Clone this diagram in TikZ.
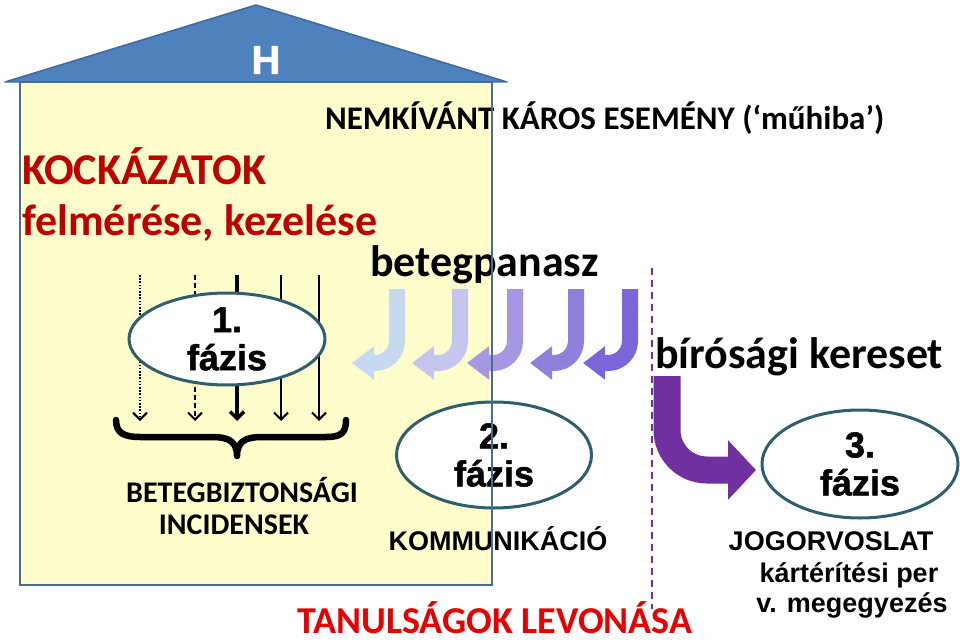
\documentclass[tikz,border=0pt]{standalone}
\usepackage{fontspec}
\setmainfont{Carlito}
\newfontfamily\arialf{Liberation Sans}
\newfontfamily\heavyf{Liberation Sans}[BoldFeatures={FakeBold=1.4}]
\usetikzlibrary{arrows.meta,shapes.geometric}
\definecolor{roofblue}{HTML}{4F81BD}
\definecolor{roofedge}{HTML}{3C6A9E}
\definecolor{housefill}{HTML}{FFFDCB}
\definecolor{houseedge}{HTML}{4A6B94}
\definecolor{elledge}{HTML}{2F5F6F}
\definecolor{darkred}{HTML}{C00000}
\definecolor{brightred}{HTML}{E60000}
\definecolor{purp}{HTML}{7030A0}
\definecolor{jA}{HTML}{C6D9F1}
\definecolor{jB}{HTML}{C4C6F0}
\definecolor{jC}{HTML}{A597E2}
\definecolor{jD}{HTML}{9080DD}
\definecolor{jE}{HTML}{7A66D8}
\newcommand{\fs}[1]{\fontsize{#1}{#1}\selectfont}
\begin{document}
\begin{tikzpicture}[x=1pt,y=-1pt,
  txt/.style={inner sep=0pt, outer sep=0pt},
  big/.style={txt, font=\bfseries\fs{44}},
  ell/.style={ellipse, draw=elledge, line width=3pt, fill=white, inner sep=0pt},
  phasetxt/.style={txt, align=center, font=\heavyf\bfseries\fontsize{36}{38}\selectfont},
  arialtxt/.style={txt, font=\arialf\bfseries\fs{27}},
  jarrow/.style={line width=16pt, rounded corners=22pt, -{Triangle[width=32pt,length=22pt]}},
  varrow/.style={line width=2pt, -{Straight Barb[length=7pt,width=14pt]}},
]
\useasboundingbox (0,0) rectangle (960,644);
\fill[white] (0,0) rectangle (960,644);
% house body fill
\fill[housefill] (20,82) rectangle (492,585);
% roof
\filldraw[fill=roofblue, draw=roofedge, line width=1.5pt, line join=round] (5,82) -- (256,5) -- (507,82) -- cycle;
\node[txt, font=\heavyf\bfseries\fs{40}, text=white] (h) at (266,60) {H};

% texts
\node[txt, anchor=base west, font=\bfseries\fs{33}] (nem) at (325,130) {NEMKÍVÁNT KÁROS ESEMÉNY (‘műhiba’)};
\node[big, anchor=base west, text=darkred] (kock) at (22,185) {KOCKÁZATOK};
\node[big, anchor=base west, text=darkred] (felm) at (22,236) {felmérése, kezelése};
\node[big, anchor=base west] (panasz) at (370,276) {betegpanasz};
\node[big, anchor=base west] (kereset) at (655,368) {bírósági kereset};
\node[txt, anchor=base, font=\bfseries\fs{30}] (bbt) at (242,502) {BETEGBIZTONSÁGI};
\node[txt, anchor=base, font=\bfseries\fs{30}] (inc) at (234,534) {INCIDENSEK};
\node[arialtxt, anchor=base] (komm) at (498,550) {KOMMUNIKÁCIÓ};
\node[arialtxt, anchor=base] (jog) at (831,550) {JOGORVOSLAT};
\node[arialtxt, anchor=base] (kart) at (849,582) {kártérítési per};
\node[arialtxt, anchor=base] (megegy) at (852,612) {v. megegyezés};
\node[txt, anchor=base, font=\bfseries\fs{38}, text=brightred] (tanul) at (495,633) {TANULSÁGOK LEVONÁSA};

% vertical incident arrows
\coordinate (a1t) at (140,275); \coordinate (a1b) at (140,421);
\coordinate (a2t) at (195,275); \coordinate (a2b) at (195,421);
\coordinate (a3t) at (237,275); \coordinate (a3b) at (237,421);
\coordinate (a4t) at (281,275); \coordinate (a4b) at (281,421);
\coordinate (a5t) at (319,275); \coordinate (a5b) at (319,421);
\draw[varrow, dash pattern=on 1.6pt off 1.6pt] (a1t) -- (a1b);
\draw[varrow, dash pattern=on 5pt off 3pt] (a2t) -- (a2b);
\draw[varrow, line width=3.5pt] (a3t) -- (a3b);
\draw[varrow] (a4t) -- (a4b);
\draw[varrow] (a5t) -- (a5b);

% phase 1 ellipse
\node[ell, minimum width=196pt, minimum height=92pt] (e1) at (227,339) {};
\node[phasetxt] (t1) at (e1.center) {1.\\fázis};

% brace
\draw[line width=6.5pt, line cap=round, line join=round]
  (116,420) .. controls (116,433) and (124,437) .. (140,437) -- (212,437)
  .. controls (228,437) and (237,441) .. (237,456)
  .. controls (237,441) and (246,437) .. (262,437) -- (326,437)
  .. controls (341,437) and (346,433) .. (346,420);

% J arrows (betegpanasz)
\coordinate (j1s) at (397,289); \coordinate (j1t) at (352,363);
\coordinate (j2s) at (460,289); \coordinate (j2t) at (412,363);
\coordinate (j3s) at (515,289); \coordinate (j3t) at (467,363);
\coordinate (j4s) at (576,289); \coordinate (j4t) at (530,363);
\coordinate (j5s) at (630,289); \coordinate (j5t) at (583,363);
\draw[jarrow, jA] (j1s) |- (j1t);
\draw[jarrow, jB] (j2s) |- (j2t);
\draw[jarrow, jC] (j3s) |- (j3t);
\draw[jarrow, jD] (j4s) |- (j4t);
\draw[jarrow, jE] (j5s) |- (j5t);

% phase 2 ellipse
\node[ell, minimum width=195pt, minimum height=106pt] (e2) at (494,455) {};
\node[phasetxt] (t2) at (e2.center) {2.\\fázis};

% dashed divider
\coordinate (dtop) at (652,268); \coordinate (dbot) at (652,609);
\draw[purp, line width=2pt, dash pattern=on 7pt off 5pt] (dtop) -- (dbot);

% big court arrow
\coordinate (bs) at (667,376); \coordinate (bt) at (756,470);
\draw[purp, line width=27pt, rounded corners=40pt, -{Triangle[width=58pt,length=28pt]}] (bs) |- (bt);

% phase 3 ellipse
\node[ell, minimum width=196pt, minimum height=108pt] (e3) at (860,464) {};
\node[phasetxt] (t3) at (e3.center) {3.\\fázis};

% house outline on top
\draw[houseedge, line width=2.5pt] (20,82) rectangle (492,585);
\end{tikzpicture}
\end{document}
